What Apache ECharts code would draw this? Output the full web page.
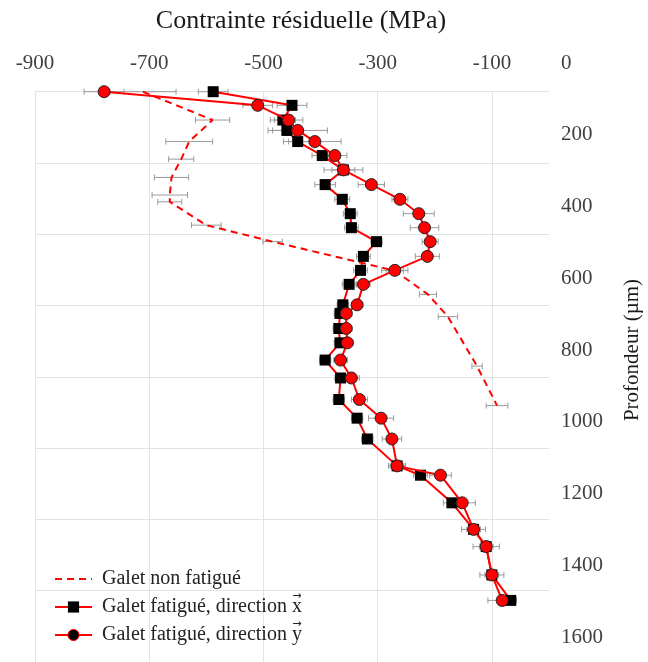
<!DOCTYPE html>
<html>
<head>
<meta charset="utf-8">
<script src="https://cdn.jsdelivr.net/npm/echarts@6/dist/echarts.min.js"></script>
<style>
html, body { margin: 0; padding: 0; background: #fff; }
#main { width: 648px; height: 662px; }
</style>
</head>
<body>
<div id="main"></div>
<script>
// profondeur (µm) et contrainte résiduelle (MPa)
var depthF = [80, 118, 159, 188, 219, 258, 298, 339, 380, 420, 459, 498, 539, 578, 617, 674, 698, 740, 780, 828, 878, 938, 990, 1048, 1123, 1149, 1226, 1300, 1348, 1427, 1498];
var stressX = [-588, -450, -466, -459, -440, -397, -360, -392, -362, -348, -346, -302, -325, -330, -350, -361, -366, -368, -366, -392, -365, -368, -336, -318, -266, -225, -170, -132, -110, -100, -67];
var errX = [26, 26, 22, 25, 25, 18, 20, 18, 13, 12, 12, 10, 12, 12, 12, 10, 10, 10, 10, 10, 10, 10, 10, 10, 12, 12, 15, 12, 12, 12, 10];
var stressY = [-779, -510, -456, -440, -410, -375, -360, -311, -261, -228, -218, -208, -213, -270, -325, -336, -355, -355, -353, -365, -346, -332, -294, -275, -266, -190, -152, -132, -110, -100, -82];
var errY = [35, 26, 25, 52, 46, 21, 34, 23, 14, 27, 25, 14, 21, 23, 12, 10, 10, 10, 10, 12, 14, 14, 22, 17, 15, 19, 23, 21, 23, 21, 25];

var depthN = [80, 159, 219, 268, 319, 368, 387, 452, 498, 579, 645, 707, 845, 955];
var stressN = [-711, -589, -630, -644, -661, -664, -664, -600, -484, -270, -212, -177, -126, -91];
var errN = [58, 30, 41, 22, 30, 31, 21, 26, 17, 15, 15, 17, 9, 19];

var xTicks = { min: -900, max: 0, interval: 200 };
var yTicks = { min: 0, max: 1600, interval: 200 };

var names = ['Galet non fatigué', 'Galet fatigué, direction x', 'Galet fatigué, direction y'];

function pts(xs, ys) {
    return xs.map(function (v, i) { return [v, ys[i]]; });
}
function errPts(xs, ys, es) {
    return xs.map(function (v, i) { return [v, ys[i], es[i]]; });
}

function renderErr(params, api) {
    var v = api.value(0), d = api.value(1), e = api.value(2);
    var a = api.coord([v - e, d]);
    var b = api.coord([v + e, d]);
    var h = 3;
    var st = { stroke: '#9a9a9a', lineWidth: 1 };
    return {
        type: 'group',
        children: [
            { type: 'line', shape: { x1: a[0], y1: a[1], x2: b[0], y2: b[1] }, style: st },
            { type: 'line', shape: { x1: a[0], y1: a[1] - h, x2: a[0], y2: a[1] + h }, style: st },
            { type: 'line', shape: { x1: b[0], y1: b[1] - h, x2: b[0], y2: b[1] + h }, style: st }
        ]
    };
}

var font = 'Liberation Serif';

// petite flèche de vecteur au-dessus de x et y dans la légende
var legLeft = 49, legTop = 564, textX = legLeft + 5 + 37 + 5 + 5;
var ctx = document.createElement('canvas').getContext('2d');
ctx.font = '20px "Liberation Serif"';
var pre = ctx.measureText('Galet fatigué, direction ').width;
function arrow(letter, cy) {
    var cx = textX + pre + ctx.measureText(letter).width / 2;
    return {
        type: 'text', x: cx + 1, y: cy, z: 100,
        style: { text: '\u2192', font: '11px "DejaVu Sans"', fill: '#222', align: 'center', verticalAlign: 'middle' }
    };
}

var myChart = echarts.init(document.getElementById('main'));

var option = {
    animation: false,
    backgroundColor: '#fff',
    graphic: [
        {
            type: 'text', x: 301, y: 21,
            style: { text: 'Contrainte résiduelle (MPa)', font: '26px "Liberation Serif"', fill: '#1a1a1a', align: 'center', verticalAlign: 'middle' }
        },
        {
            type: 'text', x: 632, y: 350, rotation: Math.PI / 2,
            style: { text: 'Profondeur (µm)', font: '21px "Liberation Serif"', fill: '#1a1a1a', align: 'center', verticalAlign: 'middle' }
        },
        arrow('x', 596),
        arrow('y', 624)
    ],
    legend: {
        orient: 'vertical',
        left: legLeft,
        top: legTop,
        itemWidth: 37,
        itemHeight: 14,
        itemGap: 8,
        textStyle: { fontFamily: font, fontSize: 20, color: '#222', padding: [0, 0, 0, 5] },
        data: [
            { name: names[0], itemStyle: { opacity: 0 } },
            { name: names[1] },
            { name: names[2], itemStyle: { color: '#000', borderColor: '#ff0000', borderWidth: 1 } }
        ]
    },
    grid: [
        { left: 35, right: 99, top: 63, height: 574 },
        { left: 35, right: 99, top: 91.7, height: 573 }
    ],
    xAxis: [
        { type: 'value', gridIndex: 0, min: xTicks.min, max: xTicks.max, show: false },
        {
            type: 'value', gridIndex: 1, position: 'top',
            min: xTicks.min, max: xTicks.max, interval: xTicks.interval,
            axisLine: { show: false }, axisTick: { show: false },
            axisLabel: { showMaxLabel: false, margin: 18, fontFamily: font, fontSize: 21, color: '#404040' },
            splitLine: { show: true, showMaxLine: false, lineStyle: { color: '#e3e3e3', width: 1 } }
        }
    ],
    yAxis: [
        {
            type: 'value', gridIndex: 0, inverse: true, position: 'right',
            min: yTicks.min, max: yTicks.max, interval: yTicks.interval,
            axisLine: { show: false }, axisTick: { show: false }, splitLine: { show: false },
            axisLabel: { margin: 12, fontFamily: font, fontSize: 21, color: '#404040', formatter: function (v) { return String(v); } }
        },
        {
            type: 'value', gridIndex: 1, inverse: true,
            min: yTicks.min, max: yTicks.max, interval: yTicks.interval,
            axisLine: { show: false }, axisTick: { show: false }, axisLabel: { show: false },
            splitLine: { show: true, lineStyle: { color: '#e3e3e3', width: 1 } }
        }
    ],
    series: [
        { type: 'custom', xAxisIndex: 0, yAxisIndex: 0, renderItem: renderErr, data: errPts(stressN, depthN, errN), z: 1, silent: true },
        { type: 'custom', xAxisIndex: 0, yAxisIndex: 0, renderItem: renderErr, data: errPts(stressX, depthF, errX), z: 1, silent: true },
        { type: 'custom', xAxisIndex: 0, yAxisIndex: 0, renderItem: renderErr, data: errPts(stressY, depthF, errY), z: 1, silent: true },
        {
            name: names[0], type: 'line', xAxisIndex: 0, yAxisIndex: 0,
            data: pts(stressN, depthN), symbol: 'none', z: 2,
            itemStyle: { color: '#ff0000' },
            lineStyle: { color: '#ff0000', width: 2, type: [7, 5] }
        },
        {
            name: names[1], type: 'line', xAxisIndex: 0, yAxisIndex: 0,
            data: pts(stressX, depthF), symbol: 'rect', symbolSize: 11, z: 3,
            itemStyle: { color: '#000' },
            lineStyle: { color: '#ff0000', width: 2 }
        },
        {
            name: names[2], type: 'line', xAxisIndex: 0, yAxisIndex: 0,
            data: pts(stressY, depthF), symbol: 'circle', symbolSize: 12, z: 4,
            itemStyle: { color: '#ff0000', borderColor: '#222', borderWidth: 1 },
            lineStyle: { color: '#ff0000', width: 2 }
        }
    ]
};

myChart.setOption(option);
</script>
</body>
</html>
